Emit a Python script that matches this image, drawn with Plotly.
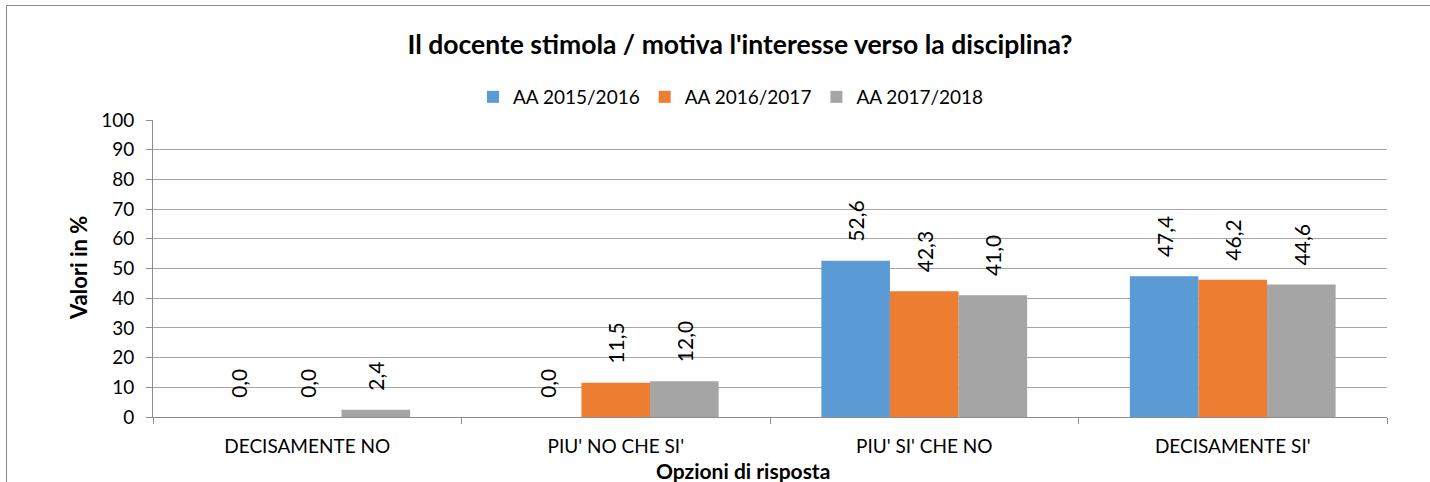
import plotly.graph_objects as go

categories = ["DECISAMENTE NO", "PIU' NO CHE SI'", "PIU' SI' CHE NO", "DECISAMENTE SI'"]
series_names = ["AA 2015/2016", "AA 2016/2017", "AA 2017/2018"]
values_2015 = [0.0, 0.0, 52.6, 47.4]
values_2016 = [0.0, 11.5, 42.3, 46.2]
values_2017 = [2.4, 12.0, 41.0, 44.6]
y_ticks = [0, 10, 20, 30, 40, 50, 60, 70, 80, 90, 100]
colors = ["#5B9BD5", "#ED7D31", "#A5A5A5"]

FONT = "Lato"
W, H = 1430, 482
L, R, T, B = 153, 1387, 120, 417

fig = go.Figure()
for name, vals, col in zip(series_names, [values_2015, values_2016, values_2017], colors):
    fig.add_trace(go.Bar(
        x=categories, y=vals, name=name, marker_color=col,
        marker_line_width=0,
        text=["\u00a0\u00a0\u00a0" + f"{v:.1f}".replace(".", ",") for v in vals],
        textposition="outside", textangle=-90,
        textfont=dict(family=FONT, size=21, color="#000000"),
        cliponaxis=False,
    ))

fig.update_layout(
    width=W, height=H,
    margin=dict(l=L, r=W - R, t=T, b=H - B, autoexpand=False),
    paper_bgcolor="white", plot_bgcolor="white",
    barmode="group", bargap=0.333, bargroupgap=0,
    font=dict(family=FONT, color="#000000"),
    title=dict(text="<b>Il docente stimola / motiva l'interesse verso la disciplina?</b>",
               x=740 / W, xref="container", xanchor="center",
               y=1 - 45 / H, yref="container", yanchor="middle",
               font=dict(family=FONT, size=26.5, color="#000000")),
    legend=dict(orientation="h", x=731 / W, xref="container", xanchor="center",
                y=1 - 97 / H, yref="container", yanchor="middle",
                font=dict(family=FONT, size=19, color="#000000"),
                itemwidth=30, tracegroupgap=0),
    showlegend=True,
)

fig.update_yaxes(
    range=[0, 100], tickvals=y_ticks, ticktext=[str(t) for t in y_ticks],
    showgrid=True, gridcolor="#A6A6A6", gridwidth=1,
    showline=True, linecolor="#8C8C8C", linewidth=1,
    ticks="outside", ticklen=6, tickcolor="#8C8C8C",
    tickfont=dict(family=FONT, size=19, color="#000000"),
    ticklabelstandoff=8,
    zeroline=False,
)
fig.update_xaxes(
    showline=True, linecolor="#8C8C8C", linewidth=1,
    ticks="outside", ticklen=6, tickcolor="#8C8C8C", tickson="boundaries",
    tickfont=dict(family=FONT, size=19, color="#000000"),
    ticklabelstandoff=12,
    showgrid=False,
)

pw, ph = R - L, B - T
def px(x):
    return (x - L) / pw
def py(y):
    return (B - y) / ph

fig.add_annotation(text="<b>Opzioni di risposta</b>", xref="paper", yref="paper",
                   x=px(743), y=py(470), showarrow=False, xanchor="center", yanchor="middle",
                   font=dict(family=FONT, size=21, color="#000000"))
fig.add_annotation(text="<b>Valori in %</b>", xref="paper", yref="paper",
                   x=px(78), y=py(268), showarrow=False, xanchor="center", yanchor="middle",
                   textangle=-90, font=dict(family=FONT, size=22, color="#000000"))

fig.add_shape(type="rect", xref="paper", yref="paper",
              x0=px(6.5), x1=px(1500), y0=py(5.5), y1=py(600),
              line=dict(color="#898989", width=1), fillcolor="rgba(0,0,0,0)", layer="below")

fig.write_html("out.html", config={"displayModeBar": False},
               post_script="document.body.style.margin='0';document.body.style.overflow='hidden';")
